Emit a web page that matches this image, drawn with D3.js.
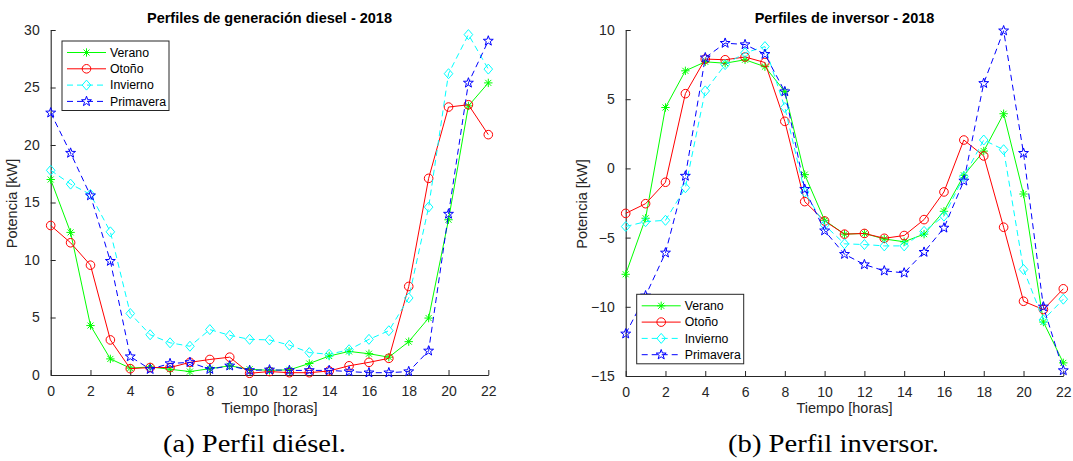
<!DOCTYPE html>
<html>
<head>
<meta charset="utf-8">
<title>Perfiles diesel e inversor - 2018</title>
<script src="https://cdn.jsdelivr.net/npm/d3@7"></script>
<style>
  body { margin: 0; background: #fff; }
  text { font-family: "Liberation Sans", Arial, sans-serif; }
</style>
</head>
<body>
<script>
// horas del dia
var hours = [0,1,2,3,4,5,6,7,8,9,10,11,12,13,14,15,16,17,18,19,20,21,22];
var seasons = ["Verano", "Otoño", "Invierno", "Primavera"];

// generacion diesel [kW]
var dieselVerano    = [17.0,12.4,4.3,1.4,0.6,0.7,0.5,0.3,0.55,0.8,0.5,0.4,0.45,1.0,1.65,2.05,1.85,1.55,2.9,4.95,13.5,23.4,25.4];
var dieselOtono     = [13.0,11.5,9.55,3.05,0.55,0.65,0.65,1.1,1.35,1.55,0.15,0.3,0.2,0.2,0.35,0.8,1.1,1.45,7.7,17.1,23.3,23.5,20.9];
var dieselInvierno  = [17.8,16.6,15.7,12.45,5.35,3.5,2.8,2.5,3.95,3.45,3.1,3.05,2.6,1.95,1.8,2.2,3.1,3.85,6.7,14.6,26.2,29.6,26.6];
var dieselPrimavera = [22.8,19.3,15.6,9.9,1.6,0.5,1.0,1.1,0.5,0.8,0.4,0.45,0.4,0.4,0.4,0.3,0.2,0.2,0.3,2.1,14.0,25.4,29.05];

// perfil del inversor [kW]
var invVerano    = [-7.65,-3.6,4.4,7.05,7.7,7.6,7.85,7.35,5.55,-0.45,-3.75,-4.75,-4.7,-5.1,-5.3,-4.75,-3.1,-0.5,1.25,3.95,-1.85,-11.1,-14.05];
var invOtono     = [-3.25,-2.55,-1.0,5.4,7.9,7.85,8.05,7.65,3.4,-2.4,-3.8,-4.75,-4.7,-5.05,-4.85,-3.7,-1.7,2.05,0.9,-4.25,-9.6,-10.2,-8.7];
var invInvierno  = [-4.2,-3.85,-3.75,-1.4,5.6,7.5,8.35,8.8,4.4,-1.7,-4.1,-5.45,-5.5,-5.6,-5.6,-4.55,-3.45,-0.6,2.05,1.35,-7.3,-10.95,-9.45];
var invPrimavera = [-11.95,-9.2,-6.1,-0.55,8.0,9.05,8.95,8.25,5.55,-1.5,-4.5,-6.2,-6.95,-7.4,-7.55,-6.05,-4.3,-0.9,6.15,9.95,1.1,-10.0,-14.6];

var xTicks = [0,2,4,6,8,10,12,14,16,18,20,22];
var dieselTicks = [0,5,10,15,20,25,30];
var invTicks = [-15,-10,-5,0,5,10];

var colors = ["#00ff00", "#ff0000", "#00ffff", "#0000ff"];
var dashes = [null, null, "6,4", "6,4"];
var markers = ["asterisk", "circle", "diamond", "star"];

var W = 1073, H = 461, axisColor = "#262626";

var svg = d3.select("body").append("svg")
    .attr("width", W).attr("height", H);

function markerPath(type) {
  if (type == "circle") {
    var p = d3.path(); p.arc(0, 0, 4.3, 0, 2 * Math.PI); return p.toString();
  }
  if (type == "diamond") return "M0,-5L4.3,0L0,5L-4.3,0Z";
  if (type == "asterisk") {
    var a = 4.2, b = 3.0;
    return "M" + (-a) + ",0L" + a + ",0M0," + (-a) + "L0," + a +
           "M" + (-b) + "," + (-b) + "L" + b + "," + b +
           "M" + (-b) + "," + b + "L" + b + "," + (-b);
  }
  // pentagram
  var pts = [];
  for (var i = 0; i < 10; i++) {
    var r = i % 2 == 0 ? 5.2 : 2.1;
    var ang = -Math.PI / 2 + i * Math.PI / 5;
    pts.push([r * Math.cos(ang), r * Math.sin(ang)]);
  }
  return "M" + pts.map(function(p) { return p[0].toFixed(2) + "," + p[1].toFixed(2); }).join("L") + "Z";
}

function drawPanel(opt) {
  var x = d3.scaleLinear().domain([0, 22]).range([opt.left, opt.left + 437.6]);
  var y = d3.scaleLinear().domain(opt.yDomain).range([opt.bottom, opt.top]);
  var g = svg.append("g");

  // ejes (solo izquierda y abajo)
  var xAxis = g.append("g")
      .attr("transform", "translate(0," + opt.bottom + ")")
      .call(d3.axisBottom(x).tickValues(xTicks).tickSizeInner(-5).tickSizeOuter(0).tickPadding(11));
  var yAxis = g.append("g")
      .attr("transform", "translate(" + opt.left + ",0)")
      .call(d3.axisLeft(y).tickValues(opt.yTicks).tickSizeInner(-5).tickSizeOuter(0).tickPadding(11));
  [xAxis, yAxis].forEach(function(a) {
    a.select(".domain").attr("stroke", axisColor).attr("stroke-width", 1.1);
    a.selectAll(".tick line").attr("stroke", axisColor);
    a.selectAll(".tick text").attr("fill", axisColor)
      .style("font-size", "14px").style("font-family", "'Liberation Sans', Arial, sans-serif");
  });

  // series
  var line = d3.line()
      .x(function(d, i) { return x(hours[i]); })
      .y(function(d) { return y(d); });

  opt.series.forEach(function(s, k) {
    g.append("path")
      .datum(s)
      .attr("d", line)
      .attr("fill", "none")
      .attr("stroke", colors[k])
      .attr("stroke-width", 1)
      .attr("stroke-dasharray", dashes[k]);
    g.selectAll(null)
      .data(s)
      .enter().append("path")
      .attr("transform", function(d, i) { return "translate(" + x(hours[i]) + "," + y(d) + ")"; })
      .attr("d", markerPath(markers[k]))
      .attr("fill", "none")
      .attr("stroke", colors[k])
      .attr("stroke-width", 1);
  });

  // titulo y etiquetas
  var cx = (x.range()[0] + x.range()[1]) / 2;
  g.append("text")
    .attr("x", cx).attr("y", 22.5)
    .attr("text-anchor", "middle")
    .style("font-size", "14.5px").style("font-weight", "bold")
    .text(opt.title);
  g.append("text")
    .attr("x", cx).attr("y", 413)
    .attr("text-anchor", "middle")
    .attr("fill", axisColor)
    .style("font-size", "14.5px")
    .text("Tiempo [horas]");
  g.append("text")
    .attr("transform", "translate(" + (opt.left - opt.ylabelOff) + "," + ((opt.top + opt.bottom) / 2 + 1) + ") rotate(-90)")
    .attr("text-anchor", "middle")
    .attr("fill", axisColor)
    .style("font-size", "14.5px")
    .text("Potencia [kW]");

  // leyenda
  var lg = g.append("g").attr("transform", "translate(" + opt.legend[0] + "," + opt.legend[1] + ")");
  lg.append("rect")
    .attr("width", 107).attr("height", 69.5)
    .attr("fill", "#fff").attr("stroke", axisColor).attr("stroke-width", 1);
  seasons.forEach(function(name, k) {
    var yy = 11.5 + k * 16.3;
    lg.append("line")
      .attr("x1", 5).attr("x2", 44).attr("y1", yy).attr("y2", yy)
      .attr("stroke", colors[k]).attr("stroke-width", 1)
      .attr("stroke-dasharray", dashes[k]);
    lg.append("path")
      .attr("transform", "translate(24.5," + yy + ")")
      .attr("d", markerPath(markers[k]))
      .attr("fill", "none").attr("stroke", colors[k]);
    lg.append("text")
      .attr("x", 48).attr("y", yy + 4.3)
      .attr("fill", "#000")
      .style("font-size", "12.3px")
      .text(name);
  });

  // subtitulo (caption)
  svg.append("text")
    .attr("x", opt.caption[0]).attr("y", 452)
    .attr("textLength", opt.caption[1])
    .attr("lengthAdjust", "spacingAndGlyphs")
    .style("font-family", "'Liberation Serif', 'DejaVu Serif', serif")
    .style("font-size", "25px")
    .text(opt.captionText);
}

drawPanel({
  left: 50.7, top: 30, bottom: 375,
  yDomain: [0, 30], yTicks: dieselTicks, ylabelOff: 33.5,
  series: [dieselVerano, dieselOtono, dieselInvierno, dieselPrimavera],
  title: "Perfiles de generación diesel - 2018",
  legend: [62, 41],
  caption: [163, 183], captionText: "(a) Perfil diésel."
});

drawPanel({
  left: 625.7, top: 30, bottom: 376,
  yDomain: [-15, 10], yTicks: invTicks, ylabelOff: 39,
  series: [invVerano, invOtono, invInvierno, invPrimavera],
  title: "Perfiles de inversor - 2018",
  legend: [636.7, 294.3],
  caption: [728, 211], captionText: "(b) Perfil inversor."
});
</script>
</body>
</html>
